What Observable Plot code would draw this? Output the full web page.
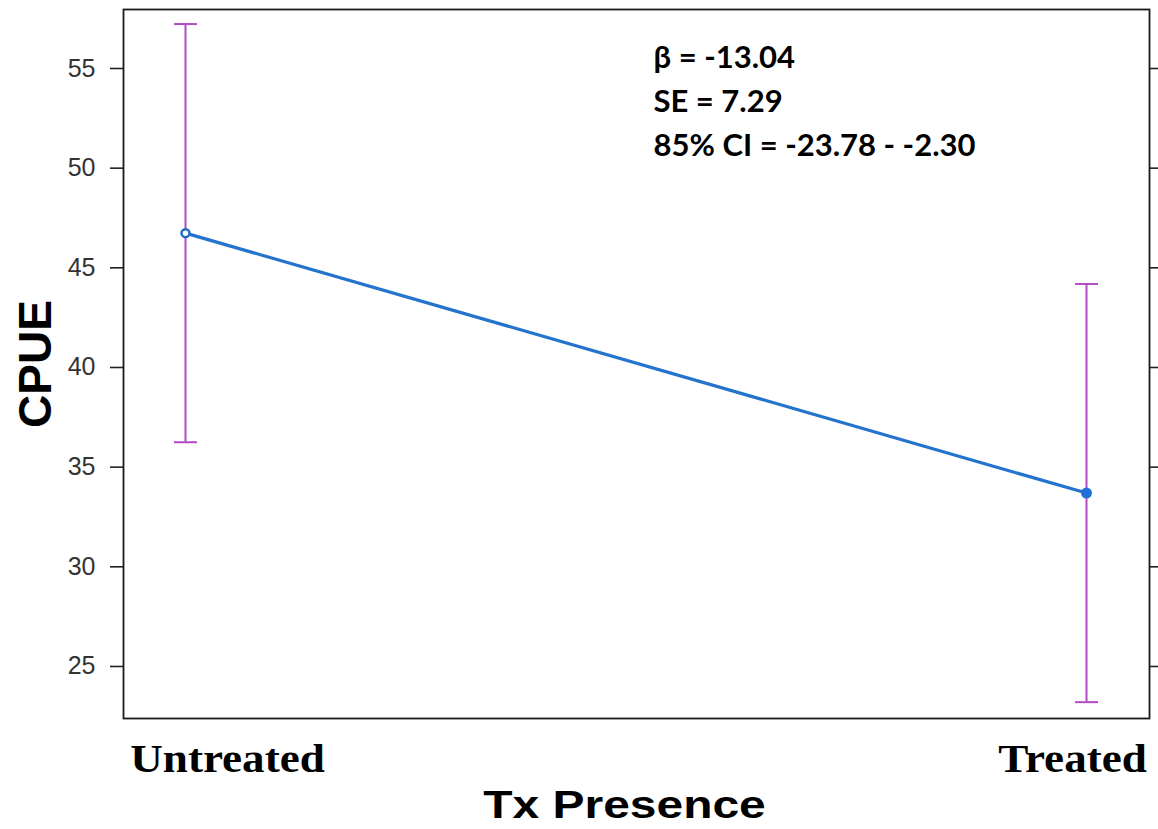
<!DOCTYPE html>
<html><head><meta charset="utf-8">
<script src="https://cdn.jsdelivr.net/npm/d3@7"></script>
<script src="https://cdn.jsdelivr.net/npm/@observablehq/plot@0.6"></script>
<style>body{margin:0;background:#fff}</style>
</head><body><div id="chart"></div>
<script>
const categories = ["Untreated", "Treated"];
const cpue = [46.74, 33.70];
const ciLow = [36.25, 23.21];
const ciHigh = [57.23, 44.19];
const yTicks = [25, 30, 35, 40, 45, 50, 55];
const statLines = ["β = -13.04", "SE = 7.29", "85% CI = -23.78 - -2.30"];
const xTitle = "Tx Presence";
const yTitle = "CPUE";

const data = categories.map((c, i) => ({cat: c, y: cpue[i], lo: ciLow[i], hi: ciHigh[i]}));
const errColor = "#b24ac4";
const lineColor = "#2473cc";
const capSymbol = {draw(ctx) { ctx.moveTo(-11.5, 0); ctx.lineTo(11.5, 0); }};

const plot = Plot.plot({
  width: 1158, height: 829,
  marginTop: 9, marginBottom: 111, marginLeft: 123, marginRight: 9,
  style: {background: "#fff", color: "#000", overflow: "visible"},
  x: {type: "point", domain: categories, padding: 0, insetLeft: 62, insetRight: 63, axis: null},
  y: {domain: [22.39, 57.96], axis: null},
  marks: [
    Plot.ruleX(data, {x: "cat", y1: "lo", y2: "hi", stroke: errColor, strokeWidth: 2}),
    Plot.dot(data, {x: "cat", y: "lo", symbol: capSymbol, fill: "none", stroke: errColor, strokeWidth: 2}),
    Plot.dot(data, {x: "cat", y: "hi", symbol: capSymbol, fill: "none", stroke: errColor, strokeWidth: 2}),
    Plot.line(data, {x: "cat", y: "y", stroke: lineColor, strokeWidth: 3.2}),
    Plot.dot(data.filter(d => d.cat === categories[0]), {x: "cat", y: "y", r: 4, stroke: "#1f6bc6", strokeWidth: 2.5, fill: "#fff"}),
    Plot.dot(data.filter(d => d.cat === categories[1]), {x: "cat", y: "y", r: 5.5, fill: "#1f6fd6", stroke: "none"}),
    Plot.frame({stroke: "#1a1a1a", strokeWidth: 1.8}),
    Plot.axisY(yTicks, {anchor: "left", tickSize: 13, tickPadding: 15, fontSize: 25, fontFamily: "Liberation Sans, Arial, sans-serif", fill: "#333", stroke: "#222", strokeWidth: 1.6, label: null}),
    Plot.axisY(yTicks, {anchor: "right", tickSize: 10, tickFormat: () => "", stroke: "#222", strokeWidth: 1.6, label: null}),
    Plot.axisY(yTicks, {anchor: "left", tickSize: 0, tickFormat: () => "", label: yTitle, labelAnchor: "center", labelArrow: "none", labelOffset: 105, fontSize: 46, fontWeight: "bold", fontFamily: "Liberation Sans, Arial, sans-serif", fill: "#000"}),
    Plot.axisX([categories[0]], {anchor: "bottom", tickSize: 0, tickPadding: 24, dx: 42, fontSize: 41, fontWeight: "bold", fontFamily: "Liberation Serif, Times New Roman, serif", fill: "#000", label: null}),
    Plot.axisX([categories[1]], {anchor: "bottom", tickSize: 0, tickPadding: 24, dx: -14, fontSize: 41, fontWeight: "bold", fontFamily: "Liberation Serif, Times New Roman, serif", fill: "#000", label: null}),
    Plot.axisX(categories, {anchor: "bottom", tickSize: 0, tickFormat: () => "", label: xTitle, labelAnchor: "center", labelArrow: "none", labelOffset: 99, fontSize: 39, fontWeight: "bold", fontFamily: "Liberation Sans, Arial, sans-serif", fill: "#000"}),
    Plot.text([statLines.join("\n")], {text: d => d, frameAnchor: "top-left", textAnchor: "start", lineAnchor: "top", dx: 530, dy: 27, lineHeight: 1.42, fontSize: 31, fontWeight: "bold", fontFamily: "Lato, sans-serif", fill: "#000"})
  ]
});
document.getElementById("chart").appendChild(plot);

// horizontally stretch the wide lettering of the x-axis texts (styling only)
function stretch(el, s, shift) {
  const b = el.getBBox();
  const cx = b.x + b.width / 2;
  const prev = el.getAttribute("transform") || "";
  el.setAttribute("transform", `${prev} translate(${cx + shift},0) scale(${s},1) translate(${-cx},0)`);
}
d3.select(plot).selectAll("text").each(function() {
  const t = this.textContent;
  if (t === categories[0] || t === categories[1]) stretch(this, 1.1, 0);
  if (t === xTitle) stretch(this, 1.23, -12);
});
</script>
</body></html>
